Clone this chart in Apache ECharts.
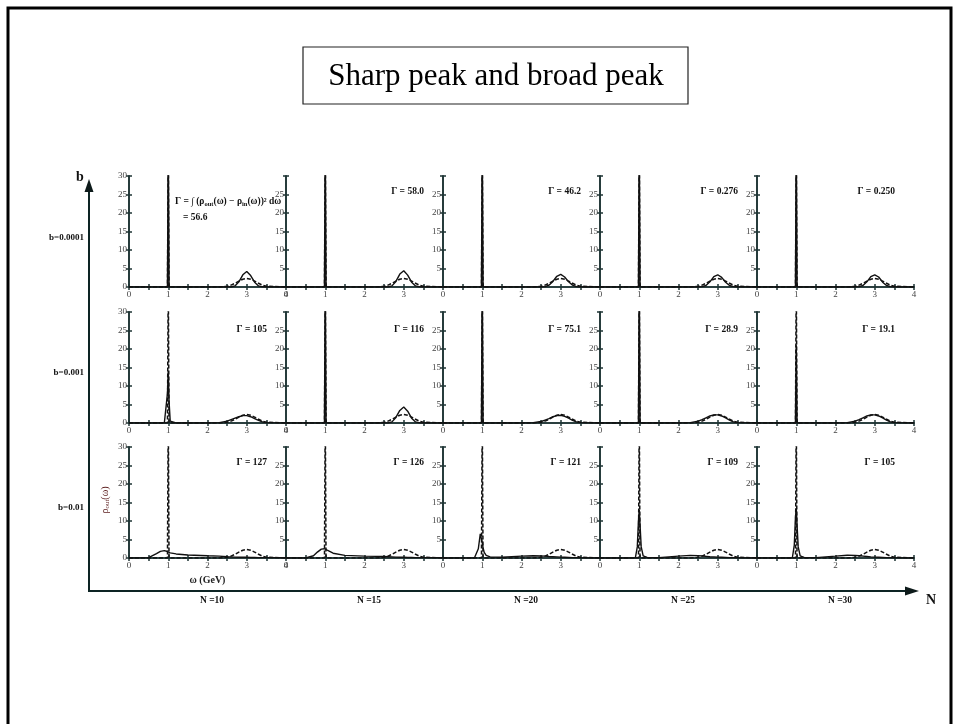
<!DOCTYPE html>
<html>
<head>
<meta charset="utf-8">
<script src="https://cdn.jsdelivr.net/npm/echarts@6/dist/echarts.min.js"></script>
<style>html,body{margin:0;padding:0;background:#fff;}#c{width:954px;height:724px;}</style>
</head>
<body>
<div id="c"></div>
<script>
// ω grid (GeV) shared by all curves
const omega = [0, 0.5, 0.7, 0.8, 0.9, 0.95, 0.98, 1.0, 1.02, 1.05, 1.1, 1.2, 1.5, 2.0, 2.3, 2.5, 2.6, 2.7, 2.8, 2.9, 3.0, 3.1, 3.2, 3.3, 3.4, 3.5, 4.0];
// input spectral function (dashed): sharp peak at 1 GeV, broad peak at 3 GeV
const rhoIn = [0,0,0,0,0,0,0,40,0,0,0,0,0,0,0,0.2,0.5,1.0,1.6,2.1,2.3,2.1,1.6,1.0,0.5,0.2,0];
// reconstructed spectral functions (solid), rows b = 0.0001, 0.001, 0.01; columns N = 10..30
const outB4N10 = [0,0,0,0,0,0,0,40,0,0,0,0,0,0,0,0,0,0.3,1.4,3.3,4.2,3.1,1.3,0.3,0.05,0,0];
const outB4N15 = [0,0,0,0,0,0,0,40,0,0,0,0,0,0,0,0,0,0.3,1.5,3.5,4.4,3.2,1.3,0.3,0.05,0,0];
const outB4N20 = [0,0,0,0,0,0,0,40,0,0,0,0,0,0,0,0,0.1,0.5,1.5,2.9,3.4,2.7,1.4,0.5,0.1,0,0];
const outB4N25 = [0,0,0,0,0,0,0,40,0,0,0,0,0,0,0,0,0.1,0.4,1.4,2.8,3.3,2.6,1.3,0.4,0.1,0,0];
const outB4N30 = [0,0,0,0,0,0,0,40,0,0,0,0,0,0,0,0,0.1,0.4,1.4,2.8,3.3,2.7,1.3,0.4,0.1,0,0];
const outB3N10 = [0,0,0,0,0,0.5,8,14,6,0.5,0,0,0,0,0.1,0.5,0.9,1.3,1.7,2.0,2.0,1.7,1.2,0.7,0.3,0.1,0];
const outB3N15 = [0,0,0,0,0,0,0,40,0,0,0,0,0,0,0,0,0,0.3,1.5,3.4,4.3,3.2,1.3,0.3,0.05,0,0];
const outB3N20 = [0,0,0,0,0,0,0,40,0,0,0,0,0,0,0.1,0.4,0.8,1.2,1.7,2.0,2.1,1.8,1.3,0.7,0.3,0.1,0];
const outB3N25 = [0,0,0,0,0,0,0,40,0,0,0,0,0,0,0.1,0.5,0.9,1.4,1.9,2.2,2.2,1.9,1.4,0.8,0.3,0.1,0];
const outB3N30 = [0,0,0,0,0,0,0,21,0,0,0,0,0,0,0.1,0.5,0.9,1.4,1.9,2.2,2.2,1.9,1.4,0.8,0.3,0.1,0];
const outB2N10 = [0,0.1,1.2,1.8,2.0,1.9,1.75,1.6,1.5,1.4,1.3,1.1,0.8,0.6,0.5,0.35,0.3,0.25,0.2,0.2,0.2,0.15,0.15,0.1,0.1,0.1,0.05];
const outB2N15 = [0,0,0.6,1.6,2.4,2.6,2.5,2.4,2.3,2.1,1.7,1.3,0.7,0.5,0.45,0.4,0.35,0.3,0.25,0.2,0.2,0.15,0.15,0.1,0.1,0.1,0.05];
const outB2N20 = [0,0,0,0,2.5,6.5,6.0,4.2,2.8,1.5,0.7,0.3,0.2,0.5,0.6,0.55,0.5,0.4,0.35,0.3,0.25,0.2,0.15,0.1,0.1,0.05,0];
const outB2N25 = [0,0,0,0,0,3,10,13,9,3,0.6,0.15,0.1,0.5,0.7,0.65,0.55,0.45,0.35,0.3,0.25,0.2,0.15,0.1,0.1,0.05,0];
const outB2N30 = [0,0,0,0,0,3.5,11,13.5,9,3,0.6,0.15,0.1,0.5,0.75,0.7,0.6,0.5,0.4,0.3,0.25,0.2,0.15,0.1,0.1,0.05,0];
const outRows = [
  [outB4N10, outB4N15, outB4N20, outB4N25, outB4N30],
  [outB3N10, outB3N15, outB3N20, outB3N25, outB3N30],
  [outB2N10, outB2N15, outB2N20, outB2N25, outB2N30]
];
const gammaValues = [
  ['56.6', '58.0', '46.2', '0.276', '0.250'],
  ['105', '116', '75.1', '28.9', '19.1'],
  ['127', '126', '121', '109', '105']
];
const bLabels = ['b=0.0001', 'b=0.001', 'b=0.01'];
const nLabels = ['N =10', 'N =15', 'N =20', 'N =25', 'N =30'];
const xTicks = [0, 1, 2, 3, 4];
const yTicks = [0, 5, 10, 15, 20, 25, 30];

const PX = 129, PW = 157, PH = 111;
const rowTops = [176, 312, 447];
const AX = '#1e3434';
const SERIF = '"Liberation Serif","DejaVu Serif",serif';

const grids = [], xAxes = [], yAxes = [], series = [], graphics = [];
const pair = (arr) => omega.map((w, i) => [w, arr[i]]);

for (let r = 0; r < 3; r++) {
  for (let c = 0; c < 5; c++) {
    const gi = grids.length;
    const left = PX + c * PW, top = rowTops[r];
    grids.push({ left: left, top: top, width: PW, height: PH });
    const showFour = (c === 0 || c === 4);
    const first = c === 0;
    xAxes.push({
      gridIndex: gi, type: 'value', min: 0, max: 4, interval: 0.5, position: 'bottom',
      axisLine: { lineStyle: { color: AX, width: 1.6 } },
      axisTick: { inside: true, length: 3, lineStyle: { color: AX, width: 1.5 } },
      axisLabel: { interval: 0, showMinLabel: true, showMaxLabel: true, fontFamily: SERIF, fontSize: 9, color: '#444', margin: 3,
        formatter: v => (xTicks.indexOf(v) >= 0 && (v < 4 || showFour)) ? String(v) : '' },
      splitLine: { show: false },
      name: (r === 2 && c === 0) ? 'ω (GeV)' : '', nameLocation: 'middle', nameGap: 17,
      nameTextStyle: { fontFamily: SERIF, fontSize: 10, color: '#222', fontWeight: 'bold' }
    });
    xAxes.push({
      gridIndex: gi, type: 'value', min: 0, max: 4, interval: 0.5, position: 'top',
      axisLine: { lineStyle: { color: AX, width: 1.6 } },
      axisTick: { inside: true, length: 3, lineStyle: { color: AX, width: 1.5 } },
      axisLabel: { show: false }, splitLine: { show: false }
    });
    yAxes.push({
      gridIndex: gi, type: 'value', min: 0, max: 30, interval: 5, position: 'left',
      axisLine: { lineStyle: { color: AX, width: 1.6 } },
      axisTick: { inside: true, length: 3, lineStyle: { color: AX, width: 1.5 } },
      axisLabel: { showMinLabel: true, showMaxLabel: true, fontFamily: SERIF, fontSize: 9, color: '#444', margin: 2,
        formatter: v => (first || (v > 0 && v < 30)) ? String(v) : '' },
      splitLine: { show: false }
    });
    yAxes.push({
      gridIndex: gi, type: 'value', min: 0, max: 30, interval: 5, position: 'right',
      axisLine: { lineStyle: { color: AX, width: 1.6 } },
      axisTick: { inside: true, length: 3, lineStyle: { color: AX, width: 1.5 } },
      axisLabel: { show: false }, splitLine: { show: false }
    });
    series.push({
      type: 'line', xAxisIndex: gi * 2, yAxisIndex: gi * 2, data: pair(rhoIn),
      showSymbol: false, symbol: 'none', clip: true, animation: false, silent: true,
      lineStyle: { color: '#111', width: 1.5, type: [4, 2] }
    });
    series.push({
      type: 'line', xAxisIndex: gi * 2, yAxisIndex: gi * 2, data: pair(outRows[r][c]),
      showSymbol: false, symbol: 'none', clip: true, animation: false, silent: true,
      lineStyle: { color: '#111', width: 1.4 }
    });
    // Γ label
    if (!(r === 0 && c === 0)) {
      graphics.push({
        type: 'text', x: left + PW - 19, y: top + (r === 1 ? 18 : 16),
        style: { text: 'Γ = ' + gammaValues[r][c], font: 'bold 9.5px ' + SERIF, fill: '#111', align: 'right', verticalAlign: 'middle' }
      });
    }
  }
}

// Γ definition in first panel
graphics.push({
  type: 'text', x: 175, y: 202,
  style: {
    text: '{a|Γ = ∫ (ρ}{s|out}{a|(ω) − ρ}{s|in}{a|(ω))² dω}',
    rich: { a: { font: 'bold 9.5px ' + SERIF, fill: '#111' }, s: { font: 'bold 6.5px ' + SERIF, fill: '#111', padding: [5, 0, 0, 0] } },
    verticalAlign: 'middle'
  }
});
graphics.push({
  type: 'text', x: 183, y: 218,
  style: { text: '= ' + gammaValues[0][0], font: 'bold 9.5px ' + SERIF, fill: '#111', verticalAlign: 'middle' }
});
// ρout(ω) axis name
graphics.push({
  type: 'text', x: 105, y: 500, rotation: Math.PI / 2,
  style: {
    text: '{a|ρ}{s|out}{a|(ω)}',
    rich: { a: { font: '10px ' + SERIF, fill: '#5a1c1c' }, s: { font: '7px ' + SERIF, fill: '#5a1c1c', padding: [5, 0, 0, 0] } },
    align: 'center', verticalAlign: 'middle'
  }
});
// outer slide frame
graphics.push({ type: 'rect', shape: { x: 8, y: 8, width: 943, height: 800 }, style: { fill: null, stroke: '#000', lineWidth: 3 }, z: 10 });
// title box
graphics.push({ type: 'rect', shape: { x: 303, y: 47, width: 385, height: 57 }, style: { fill: '#fff', stroke: '#222', lineWidth: 1.2 } });
graphics.push({ type: 'text', x: 496, y: 77, style: { text: 'Sharp peak and broad peak', font: '31px ' + SERIF, fill: '#000', align: 'center', verticalAlign: 'middle' } });
// b axis arrow
graphics.push({ type: 'line', shape: { x1: 89, y1: 591, x2: 89, y2: 188 }, style: { stroke: '#0d2424', lineWidth: 2 } });
graphics.push({ type: 'polygon', shape: { points: [[89, 179], [84.5, 192], [93.5, 192]] }, style: { fill: '#0d1a1a' } });
graphics.push({ type: 'text', x: 80, y: 177, style: { text: 'b', font: 'bold 14px ' + SERIF, fill: '#111', align: 'center', verticalAlign: 'middle' } });
// N axis arrow
graphics.push({ type: 'line', shape: { x1: 88, y1: 591, x2: 908, y2: 591 }, style: { stroke: '#0d2424', lineWidth: 2 } });
graphics.push({ type: 'polygon', shape: { points: [[919, 591], [905, 586.5], [905, 595.5]] }, style: { fill: '#0d1a1a' } });
graphics.push({ type: 'text', x: 931, y: 600, style: { text: 'N', font: 'bold 14px ' + SERIF, fill: '#111', align: 'center', verticalAlign: 'middle' } });
// row / column labels
const bY = [238, 373, 508];
bLabels.forEach((t, i) => graphics.push({ type: 'text', x: 84, y: bY[i], style: { text: t, font: 'bold 9px ' + SERIF, fill: '#111', align: 'right', verticalAlign: 'middle' } }));
nLabels.forEach((t, i) => graphics.push({ type: 'text', x: PX + i * PW + 83, y: 601, style: { text: t, font: 'bold 9.5px ' + SERIF, fill: '#111', align: 'center', verticalAlign: 'middle' } }));

const chart = echarts.init(document.getElementById('c'), null, { renderer: 'canvas' });
chart.setOption({
  animation: false,
  backgroundColor: '#fff',
  grid: grids, xAxis: xAxes, yAxis: yAxes, series: series,
  graphic: graphics
});
</script>
</body>
</html>
